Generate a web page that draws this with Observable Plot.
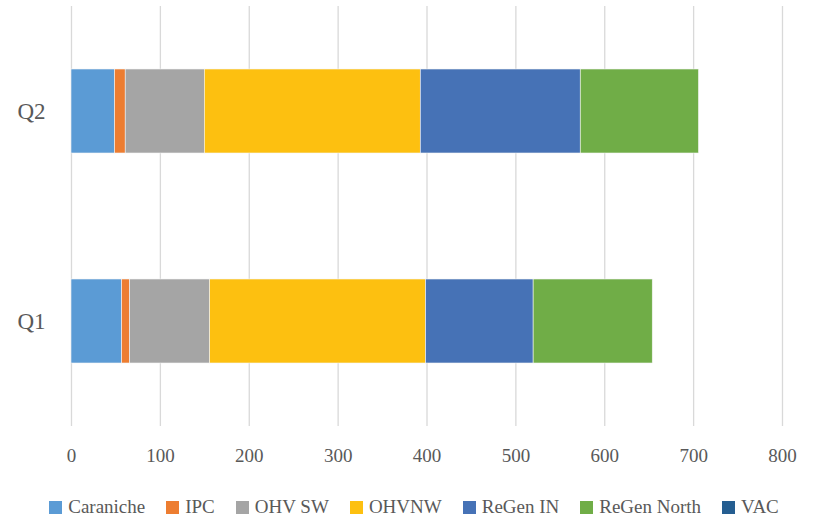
<!DOCTYPE html>
<html>
<head>
<meta charset="utf-8">
<script src="https://cdn.jsdelivr.net/npm/d3@7"></script>
<script src="https://cdn.jsdelivr.net/npm/@observablehq/plot@0.6"></script>
<style>
  body { margin: 0; background: #fff; font-family: "Liberation Serif", "DejaVu Serif", serif; }
  #legend { display: flex; justify-content: center; gap: 21px; font-size: 19px; color: #595959; margin-top: 16px; padding-left: 12px; }
  #legend span.item { display: inline-flex; align-items: center; }
  #legend span.sw { width: 13px; height: 13px; display: inline-block; margin-right: 6px; }
</style>
</head>
<body>
<div id="chart"></div>
<div id="legend"></div>
<script>
const quarters = ["Q2", "Q1"];
const seriesNames = ["Caraniche", "IPC", "OHV SW", "OHVNW", "ReGen IN", "ReGen North", "VAC"];
const seriesColors = ["#5B9BD5", "#ED7D31", "#A5A5A5", "#FDC010", "#4672B6", "#70AD47", "#255E91"];
const q1Values = [57, 9, 90, 243, 121, 134, 0];
const q2Values = [49, 12, 89, 243, 180, 133, 0];
const xTicks = [0, 100, 200, 300, 400, 500, 600, 700, 800];

const rows = [];
seriesNames.forEach((s, i) => {
  rows.push({quarter: "Q1", series: s, value: q1Values[i]});
  rows.push({quarter: "Q2", series: s, value: q2Values[i]});
});

const chart = Plot.plot({
  width: 816,
  height: 480,
  marginTop: 6,
  marginBottom: 54,
  marginLeft: 71,
  marginRight: 34,
  style: {fontFamily: "Liberation Serif, DejaVu Serif, serif", color: "#595959", background: "#fff"},
  x: {domain: [0, 800], ticks: xTicks, tickSize: 0, tickPadding: 22, label: null},
  y: {domain: quarters, paddingInner: 0.6, paddingOuter: 0.3, tickSize: 0, tickPadding: 26, label: null},
  color: {domain: seriesNames, range: seriesColors},
  marks: [
    Plot.gridX(xTicks, {stroke: "#d9d9d9", strokeOpacity: 1, strokeWidth: 1.3}),
    Plot.barX(rows, Plot.stackX({
      x: "value", y: "quarter", fill: "series",
      order: seriesNames, stroke: "#f4f4f4", strokeWidth: 0.6
    })),
    Plot.axisX({ticks: xTicks, tickSize: 0, tickPadding: 22, fontSize: 19, fill: "#595959"}),
    Plot.axisY({tickSize: 0, tickPadding: 26, fontSize: 23, fill: "#595959"})
  ]
});
document.getElementById("chart").appendChild(chart);

const legend = document.getElementById("legend");
seriesNames.forEach((s, i) => {
  const item = document.createElement("span");
  item.className = "item";
  const sw = document.createElement("span");
  sw.className = "sw";
  sw.style.background = seriesColors[i];
  item.appendChild(sw);
  item.appendChild(document.createTextNode(s));
  legend.appendChild(item);
});
</script>
</body>
</html>
